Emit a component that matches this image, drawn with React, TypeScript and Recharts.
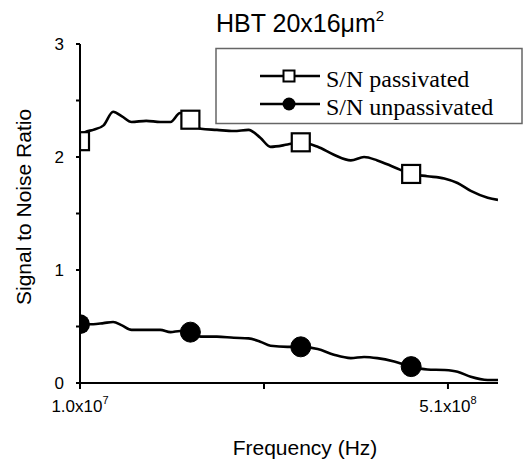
import React from 'react';
import { LineChart, Line, XAxis, YAxis } from 'recharts';

// frequency in Hz
const frequencies = [
    1.0e7, 1.7e7, 2.8e7, 4.2e7, 5.5e7, 6.7e7, 8.0e7, 1.0e8, 1.19e8, 1.33e8, 1.46e8,
    1.6e8, 1.74e8, 1.96e8, 2.19e8, 2.39e8, 2.55e8, 2.69e8, 2.92e8, 3.1e8, 3.33e8,
    3.55e8, 3.78e8, 3.96e8, 4.14e8, 4.37e8, 4.6e8, 4.82e8, 5.05e8, 5.23e8, 5.41e8,
    5.64e8, 5.78e8,
];
const passivated = [
    2.14, 2.22, 2.24, 2.28, 2.4, 2.36, 2.31, 2.32, 2.31, 2.31, 2.39,
    2.33, 2.25, 2.24, 2.23, 2.24, 2.17, 2.09, 2.11, 2.13, 2.09,
    2.02, 1.97, 2.0, 1.97, 1.91, 1.85, 1.83, 1.81, 1.77, 1.7,
    1.64, 1.62,
];
const unpassivated = [
    0.52, 0.52, 0.52, 0.53, 0.54, 0.51, 0.47, 0.47, 0.47, 0.45, 0.46,
    0.45, 0.41, 0.41, 0.4, 0.395, 0.365, 0.33, 0.32, 0.32, 0.3,
    0.25, 0.22, 0.23, 0.22, 0.19, 0.145, 0.12, 0.115, 0.1, 0.055,
    0.027, 0.027,
];
const markerFreqs = [1.0e7, 1.6e8, 3.1e8, 4.6e8];

const xDomain = [1.0e7, 5.78e8];
const xTicks = [1.0e7, 2.6e8, 5.1e8];
const xTickLabels: Record<number, [string, string]> = {
    10000000: ['1.0', '7'],
    510000000: ['5.1', '8'],
};
const yTicks = [0, 0.5, 1, 1.5, 2, 2.5, 3];

const seriesNames = ['S/N passivated', 'S/N unpassivated'];

const data = frequencies.map((freq, i) => ({
    freq,
    passivated: passivated[i],
    unpassivated: unpassivated[i],
}));

const SANS = '"Liberation Sans", Arial, sans-serif';
const SERIF = '"Liberation Serif", "Times New Roman", serif';

const FreqTick = (props: any) => {
    const { x, y, payload } = props;
    const lbl = xTickLabels[payload.value];
    if (!lbl) return <g />;
    return (
        <text x={x} y={y + 21} textAnchor="middle" fontFamily={SANS} fontSize={17} fill="#000">
            <tspan>{lbl[0]}x10</tspan>
            <tspan dy={-8} fontSize={11}>{lbl[1]}</tspan>
        </text>
    );
};

// markers sitting on the y axis are cut by the plot edge, only the right half shows
const squareDot = (props: any) => {
    const { cx, cy, payload, index } = props;
    if (!markerFreqs.includes(payload.freq)) return <g key={`s${index}`} />;
    const left = payload.freq === xDomain[0] ? cx : cx - 9;
    return <rect key={`s${index}`} x={left} y={cy - 9} width={cx + 9 - left} height={18} fill="#fff" stroke="#000" strokeWidth={2.2} />;
};

const circleDot = (props: any) => {
    const { cx, cy, payload, index } = props;
    if (!markerFreqs.includes(payload.freq)) return <g key={`c${index}`} />;
    if (payload.freq === xDomain[0]) {
        return <path key={`c${index}`} d={`M${cx},${cy - 10} A10,10 0 0 1 ${cx},${cy + 10} Z`} fill="#000" />;
    }
    return <circle key={`c${index}`} cx={cx} cy={cy} r={10} fill="#000" stroke="#000" />;
};

const App: React.FC = () => {
    return (
        <div style={{ position: 'absolute', left: 0, top: 0, width: 525, height: 462, background: '#fff' }}>
            <LineChart
                width={525}
                height={462}
                data={data}
                margin={{ top: 44, right: 27, left: 20, bottom: 49 }}
            >
                <XAxis
                    dataKey="freq"
                    type="number"
                    domain={xDomain}
                    ticks={xTicks}
                    allowDataOverflow
                    height={30}
                    tickSize={6}
                    tickMargin={2}
                    tick={<FreqTick />}
                    axisLine={{ stroke: '#000', strokeWidth: 2 }}
                    tickLine={{ stroke: '#000', strokeWidth: 2 }}
                />
                <YAxis
                    type="number"
                    domain={[0, 3]}
                    ticks={yTicks}
                    allowDataOverflow
                    width={60}
                    tickSize={4}
                    tickMargin={12}
                    tickFormatter={(v: number) => (Number.isInteger(v) ? String(v) : '')}
                    tick={{ fontFamily: SANS, fontSize: 17, fill: '#000' }}
                    axisLine={{ stroke: '#000', strokeWidth: 2 }}
                    tickLine={{ stroke: '#000', strokeWidth: 2 }}
                />
                <Line
                    type="monotone"
                    dataKey="passivated"
                    stroke="#000"
                    strokeWidth={2.6}
                    dot={squareDot}
                    activeDot={false}
                    isAnimationActive={false}
                />
                <Line
                    type="monotone"
                    dataKey="unpassivated"
                    stroke="#000"
                    strokeWidth={2.6}
                    dot={circleDot}
                    activeDot={false}
                    isAnimationActive={false}
                />
            </LineChart>

            {/* title, legend and axis labels */}
            <svg width={525} height={462} style={{ position: 'absolute', left: 0, top: 0, pointerEvents: 'none' }}>
                <text x={216} y={32} fontFamily={SANS} fontSize={25} fill="#000">
                    HBT 20x16μm<tspan dy={-11} fontSize={15}>2</tspan>
                </text>

                <rect x={216} y={48.5} width={306} height={75} fill="#fff" stroke="#666" strokeWidth={1.5} />
                <line x1={260} x2={320} y1={76} y2={76} stroke="#000" strokeWidth={2.5} />
                <rect x={283.5} y={70.5} width={11} height={11} fill="#fff" stroke="#000" strokeWidth={2} />
                <text x={326} y={87} fontFamily={SERIF} fontSize={24} fill="#000">{seriesNames[0]}</text>
                <line x1={260} x2={320} y1={104} y2={104} stroke="#000" strokeWidth={2.5} />
                <circle cx={289} cy={104} r={6.5} fill="#000" />
                <text x={326} y={115} fontFamily={SERIF} fontSize={24} fill="#000">{seriesNames[1]}</text>

                <text
                    x={0}
                    y={0}
                    transform="translate(31 207) rotate(-90)"
                    textAnchor="middle"
                    fontFamily={SANS}
                    fontSize={21}
                    fill="#000"
                >
                    Signal to Noise Ratio
                </text>
                <text x={305} y={455} textAnchor="middle" fontFamily={SANS} fontSize={21} fill="#000">
                    Frequency (Hz)
                </text>
            </svg>
        </div>
    );
};

export default App;
